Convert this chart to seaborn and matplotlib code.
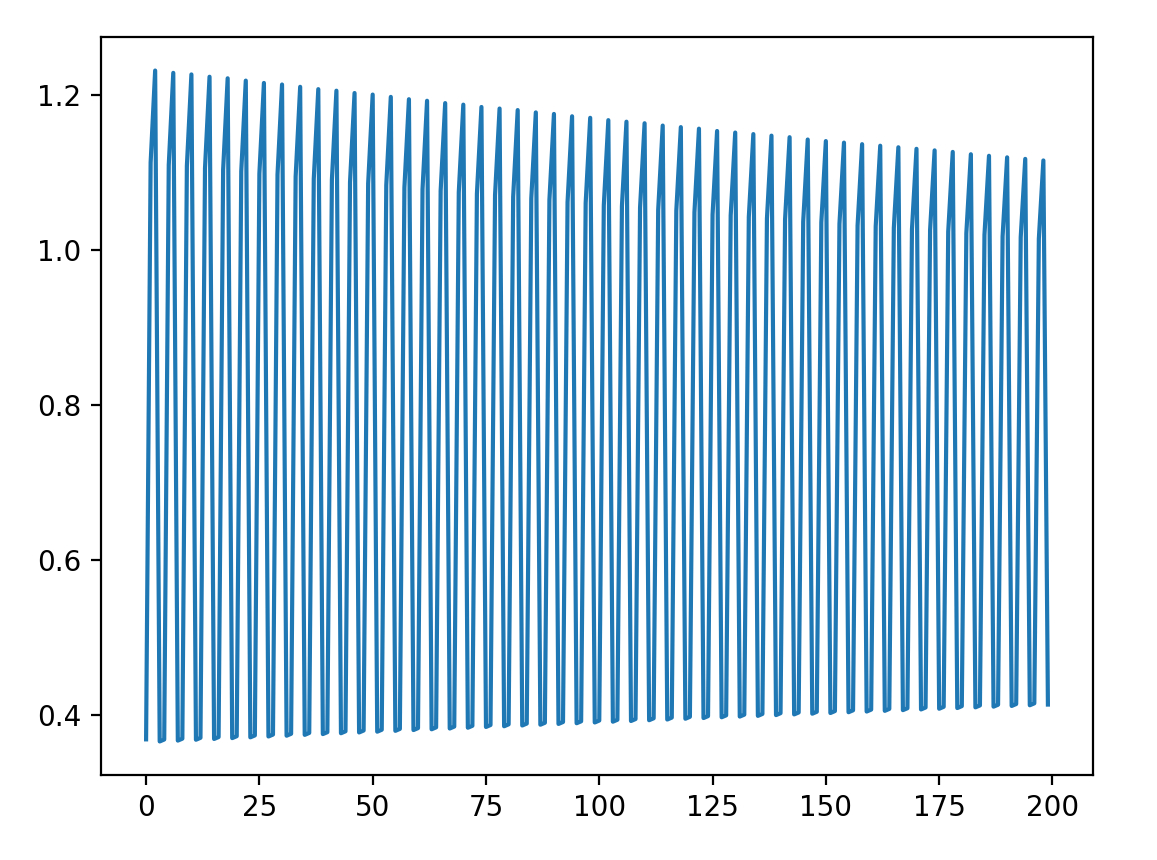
import numpy as np
import pandas as pd
import matplotlib
matplotlib.use("Agg")
import matplotlib.pyplot as plt
import seaborn as sns

# Four phases of each 4-step cycle (50 cycles, x = 0..199)
start_vals = [0.3680, 0.3678, 0.3689, 0.3700, 0.3710, 0.3721, 0.3731, 0.3742, 0.3752, 0.3763,
              0.3773, 0.3784, 0.3794, 0.3804, 0.3815, 0.3825, 0.3835, 0.3845, 0.3855, 0.3865,
              0.3874, 0.3884, 0.3894, 0.3904, 0.3913, 0.3923, 0.3933, 0.3942, 0.3952, 0.3961,
              0.3971, 0.3980, 0.3990, 0.3999, 0.4008, 0.4018, 0.4027, 0.4036, 0.4045, 0.4055,
              0.4064, 0.4073, 0.4082, 0.4091, 0.4100, 0.4109, 0.4118, 0.4127, 0.4136, 0.4145]
mid_vals = [1.112, 1.109, 1.108, 1.105, 1.103, 1.101, 1.098, 1.097, 1.094, 1.091,
            1.090, 1.087, 1.085, 1.083, 1.080, 1.078, 1.076, 1.074, 1.072, 1.070,
            1.068, 1.066, 1.064, 1.061, 1.060, 1.057, 1.056, 1.054, 1.051, 1.050,
            1.048, 1.045, 1.044, 1.042, 1.040, 1.039, 1.036, 1.035, 1.033, 1.031,
            1.030, 1.028, 1.026, 1.025, 1.023, 1.021, 1.019, 1.017, 1.016, 1.014]
peak_vals = [1.231, 1.228, 1.226, 1.223, 1.221, 1.218, 1.215, 1.213, 1.210, 1.207,
             1.205, 1.202, 1.200, 1.197, 1.194, 1.192, 1.189, 1.187, 1.184, 1.182,
             1.180, 1.177, 1.175, 1.172, 1.170, 1.167, 1.165, 1.163, 1.160, 1.158,
             1.156, 1.153, 1.151, 1.149, 1.147, 1.145, 1.142, 1.140, 1.138, 1.136,
             1.134, 1.132, 1.130, 1.128, 1.126, 1.123, 1.121, 1.119, 1.117, 1.115]
trough_vals = [0.3653, 0.3664, 0.3675, 0.3685, 0.3696, 0.3706, 0.3717, 0.3727, 0.3738, 0.3748,
               0.3759, 0.3769, 0.3779, 0.3790, 0.3800, 0.3810, 0.3820, 0.3830, 0.3840, 0.3849,
               0.3859, 0.3869, 0.3879, 0.3888, 0.3898, 0.3908, 0.3917, 0.3927, 0.3936, 0.3946,
               0.3955, 0.3965, 0.3974, 0.3983, 0.3993, 0.4002, 0.4011, 0.4020, 0.4030, 0.4039,
               0.4048, 0.4057, 0.4066, 0.4075, 0.4084, 0.4093, 0.4102, 0.4111, 0.4120, 0.4129]

values = []
for a, b, c, d in zip(start_vals, mid_vals, peak_vals, trough_vals):
    values.extend([a, b, c, d])
df = pd.DataFrame({"x": np.arange(len(values)), "y": values})

fig = plt.figure(figsize=(1157 / 200, 860 / 200), dpi=200)
ax = fig.add_axes([101 / 1157, 85 / 860, 992 / 1157, 738 / 860])
sns.lineplot(data=df, x="x", y="y", ax=ax, color="#1f77b4", linewidth=1.5)
ax.set_xlabel("")
ax.set_ylabel("")
ax.set_xticks([0, 25, 50, 75, 100, 125, 150, 175, 200])
ax.set_yticks([0.4, 0.6, 0.8, 1.0, 1.2])
fig.savefig("out.png", dpi=200)
